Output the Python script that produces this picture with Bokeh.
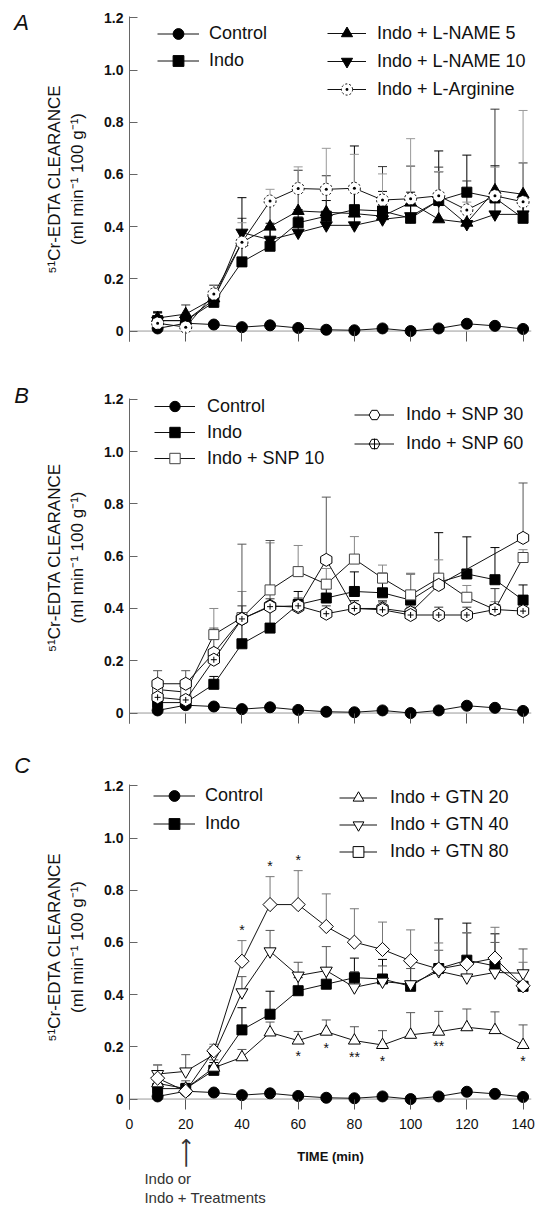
import math
from bokeh.plotting import figure
from bokeh.layouts import column
from bokeh.models import (Range1d, FixedTicker, CustomJSTickFormatter, Span, Whisker, TeeHead,
                          ColumnDataSource, Legend, LegendItem, Label)
from bokeh.core.properties import value
from bokeh.embed import file_html
from bokeh.resources import INLINE

FONT = "Liberation Sans"

# ---------------- data ----------------
TIME = [10, 20, 30, 40, 50, 60, 70, 80, 90, 100, 110, 120, 130, 140]
X_TICKS = [0, 20, 40, 60, 80, 100, 120, 140]
Y_TICKS = [0, 0.2, 0.4, 0.6, 0.8, 1.0, 1.2]

control = [0.01, 0.03, 0.025, 0.015, 0.022, 0.012, 0.005, 0.003, 0.01, 0.0, 0.01, 0.028, 0.02, 0.008]
control_sem = [0.01, 0.01, 0.008, 0.006, 0.008, 0.006, 0.005, 0.005, 0.006, 0.005, 0.006, 0.008, 0.007, 0.006]
indo = [0.04, 0.04, 0.11, 0.265, 0.325, 0.415, 0.44, 0.465, 0.46, 0.432, 0.5, 0.532, 0.51, 0.432]
indo_sem = [0.03, 0.02, 0.03, 0.085, 0.088, 0.05, 0.06, 0.075, 0.075, 0.1, 0.19, 0.142, 0.123, 0.058]

# panel A
lname5 = [0.05, 0.065, 0.125, 0.34, 0.40, 0.46, 0.455, 0.45, 0.44, 0.492, 0.428, 0.415, 0.539, 0.524]
lname5_sem = [0.025, 0.035, 0.05, 0.092, 0.11, 0.156, 0.14, 0.03, 0.19, 0.14, 0.2, 0.16, 0.311, 0.12]
lname10 = [0.04, 0.04, 0.12, 0.377, 0.35, 0.377, 0.405, 0.405, 0.428, 0.44, 0.5, 0.41, 0.447, 0.447]
lname10_sem = [0.03, 0.02, 0.03, 0.134, 0.05, 0.06, 0.05, 0.304, 0.05, 0.05, 0.11, 0.05, 0.05, 0.05]
larg = [0.03, 0.015, 0.142, 0.34, 0.498, 0.546, 0.543, 0.547, 0.502, 0.507, 0.518, 0.464, 0.518, 0.495]
larg_sem = [0.02, 0.02, 0.035, 0.075, 0.045, 0.083, 0.157, 0.13, 0.10, 0.23, 0.093, 0.03, 0.11, 0.35]

# panel B
snp10 = [0.09, 0.08, 0.30, 0.365, 0.471, 0.541, 0.493, 0.589, 0.516, 0.452, 0.516, 0.443, 0.396, 0.595]
snp10_sem = [0.03, 0.03, 0.10, 0.1, 0.18, 0.1, 0.06, 0.086, 0.05, 0.083, 0.07, 0.045, 0.03, 0.03]
snp30_time = [10, 20, 30, 40, 50, 60, 70, 80, 90, 100, 110, 140]
snp30 = [0.112, 0.112, 0.23, 0.36, 0.41, 0.405, 0.586, 0.40, 0.40, 0.385, 0.49, 0.67]
snp30_sem = [0.05, 0.05, 0.095, 0.286, 0.25, 0.03, 0.24, 0.03, 0.03, 0.03, 0.03, 0.21]
snp60 = [0.06, 0.05, 0.204, 0.36, 0.407, 0.41, 0.38, 0.40, 0.395, 0.375, 0.375, 0.375, 0.396, 0.39]
snp60_sem = [0.03, 0.03, 0.03, 0.05, 0.03, 0.03, 0.03, 0.03, 0.03, 0.03, 0.03, 0.03, 0.08, 0.03]

# panel C
gtn20 = [0.06, 0.04, 0.12, 0.16, 0.255, 0.224, 0.258, 0.224, 0.207, 0.246, 0.258, 0.275, 0.264, 0.207]
gtn20_sem = [0.03, 0.03, 0.03, 0.03, 0.04, 0.035, 0.045, 0.053, 0.055, 0.085, 0.078, 0.07, 0.07, 0.077]
gtn40 = [0.096, 0.106, 0.17, 0.409, 0.566, 0.473, 0.492, 0.428, 0.45, 0.44, 0.49, 0.466, 0.485, 0.482]
gtn40_sem = [0.035, 0.064, 0.03, 0.06, 0.08, 0.051, 0.092, 0.06, 0.06, 0.06, 0.08, 0.17, 0.115, 0.093]
gtn80 = [0.08, 0.03, 0.185, 0.528, 0.745, 0.745, 0.661, 0.601, 0.573, 0.53, 0.498, 0.518, 0.54, 0.434]
gtn80_sem = [0.05, 0.03, 0.025, 0.079, 0.107, 0.13, 0.125, 0.128, 0.105, 0.118, 0.1, 0.12, 0.118, 0.09]

star_x = [40, 50, 60, 60, 70, 80, 90, 110, 140]
star_y = [0.664, 0.907, 0.93, 0.179, 0.21, 0.176, 0.162, 0.217, 0.16]
star_text = ["*", "*", "*", "*", "*", "**", "*", "**", "*"]

TREATMENT_TIME = 20

Y_TITLE = "\u2075\u00b9Cr-EDTA CLEARANCE\n(ml min\u207b\u00b9 100 g\u207b\u00b9)"


def make_fig(height, top, bottom, letter, letter_y, show_x, y_end=1.205):
    p = figure(width=540, height=height, output_backend="svg", toolbar_location=None,
               x_range=Range1d(0, 143), y_range=Range1d(-0.04, y_end),
               min_border_left=129, min_border_right=9,
               min_border_top=top, min_border_bottom=bottom)
    p.outline_line_color = None
    p.xgrid.visible = False
    p.ygrid.visible = False
    p.background_fill_color = "white"
    p.border_fill_color = "white"

    ya = p.yaxis[0]
    ya.bounds = (-0.04, 1.205)
    ya.ticker = FixedTicker(ticks=Y_TICKS)
    ya.formatter = CustomJSTickFormatter(code="return tick == 0 ? '0' : tick.toFixed(1);")
    ya.major_tick_in = 8
    ya.major_tick_out = 0
    ya.minor_tick_line_color = None
    ya.axis_line_color = "#666666"
    ya.major_tick_line_color = "#666666"
    ya.major_label_text_font = FONT
    ya.major_label_text_font_style = "bold"
    ya.major_label_text_font_size = "14px"
    ya.major_label_text_color = "#111111"
    ya.major_label_standoff = 6
    ya.axis_label = Y_TITLE
    ya.axis_label_text_font = FONT
    ya.axis_label_text_font_style = "normal"
    ya.axis_label_text_font_size = "17px"
    ya.axis_label_text_color = "#111111"
    ya.axis_label_standoff = 14

    xa = p.xaxis[0]
    xa.ticker = FixedTicker(ticks=X_TICKS)
    xa.major_tick_in = 10
    xa.major_tick_out = 0
    xa.minor_tick_line_color = None
    xa.axis_line_color = None
    xa.major_tick_line_color = "#555555"
    if show_x:
        xa.major_label_text_font = FONT
        xa.major_label_text_font_size = "14px"
        xa.major_label_text_color = "#111111"
        xa.major_label_standoff = 9
        xa.axis_label = "TIME (min)"
        xa.axis_label_text_font = FONT
        xa.axis_label_text_font_style = "bold"
        xa.axis_label_text_font_size = "13px"
        xa.axis_label_text_color = "#111111"
        xa.axis_label_standoff = 17
    else:
        xa.major_label_text_color = None
        xa.major_label_text_font_size = "1px"
        xa.major_label_standoff = 0

    p.add_layout(Span(location=0, dimension="width", line_color="#999999",
                      line_width=1, level="underlay"))

    # panel letter (placed in the left side panel so it is not clipped to the frame)
    p.add_layout(Label(x=-41, y=letter_y, text=letter, text_align="left",
                       text_baseline="top", text_font=FONT, text_font_style="italic",
                       text_font_size="22px", text_color="#111111"), "left")
    return p


def series(p, xs, ys, sems, marker, size, fill, err_color="black", dash="solid",
           angle=0.0, extra=None, line_color="black"):
    src = ColumnDataSource(dict(x=xs, y=ys, hi=[a + b for a, b in zip(ys, sems)]))
    p.add_layout(Whisker(source=src, base="x", lower="y", upper="hi",
                         line_color=err_color, line_width=1,
                         upper_head=TeeHead(size=9, line_color=err_color, line_width=1),
                         lower_head=None, level="underlay"))
    ln = p.line("x", "y", source=src, line_color="#111111", line_width=1)
    mk = p.scatter("x", "y", source=src, marker=marker, size=size, fill_color=fill,
                   line_color=line_color, line_width=1, line_dash=dash, angle=angle)
    rs = [ln, mk]
    if extra is not None:
        rs.append(p.scatter("x", "y", source=src, marker=extra, size=6,
                            line_color=line_color, line_width=1))
    return rs


def add_legend(p, items, vx, vy, gh, spacing, gw, standoff):
    leg = Legend(items=[LegendItem(label=t, renderers=r) for t, r in items],
                 location=(vx, vy), orientation="vertical",
                 glyph_height=gh, glyph_width=gw, label_height=gh,
                 label_standoff=standoff, spacing=spacing, padding=0, margin=0,
                 border_line_color=None, background_fill_alpha=0,
                 label_text_font=FONT, label_text_font_size="18px",
                 label_text_color="#111111")
    p.add_layout(leg)


# ---------------- panel A ----------------
pA = make_fig(380, 16, 39, "A", 1.228, False)
rA_ctrl = series(pA, TIME, control, control_sem, "circle", 11, "black")
rA_indo = series(pA, TIME, indo, indo_sem, "square", 10, "black")
rA_l5 = series(pA, TIME, lname5, lname5_sem, "triangle", 12, "black", err_color="#333333")
rA_l10 = series(pA, TIME, lname10, lname10_sem, "inverted_triangle", 12, "black")
rA_arg = series(pA, TIME, larg, larg_sem, "circle_dot", 12, "white", err_color="#999999",
                dash="2 2")
add_legend(pA, [("Control", rA_ctrl), ("Indo", rA_indo)], 28, 267, 27, 0, 42, 10)
add_legend(pA, [("Indo + L-NAME 5", rA_l5), ("Indo + L-NAME 10", rA_l10),
                ("Indo + L-Arginine", rA_arg)], 198, 238, 28, 0, 39, 11)

# ---------------- panel B ----------------
pB = make_fig(366, 11, 23, "B", 1.263, False, y_end=1.23)
rB_ctrl = series(pB, TIME, control, control_sem, "circle", 11, "black")
rB_indo = series(pB, TIME, indo, indo_sem, "square", 10, "black")
rB_s10 = series(pB, TIME, snp10, snp10_sem, "square", 10, "white", err_color="#888888",
                line_color="#444444")
rB_s30 = series(pB, snp30_time, snp30, snp30_sem, "hex", 13, "white", err_color="#555555",
                angle=math.pi / 2)
rB_s60 = series(pB, TIME, snp60, snp60_sem, "hex", 13, "white", err_color="#333333",
                angle=math.pi / 2, extra="cross")
add_legend(pB, [("Control", rB_ctrl), ("Indo", rB_indo), ("Indo + SNP 10", rB_s10)],
           25, 252, 26, -2, 41, 12)
add_legend(pB, [("Indo + SNP 30", rB_s30), ("Indo + SNP 60", rB_s60)],
           225, 266, 27, 2, 40, 12)

# ---------------- panel C ----------------
pC = make_fig(461, 38, 98, "C", 1.324, True)
rC_ctrl = series(pC, TIME, control, control_sem, "circle", 11, "black")
rC_indo = series(pC, TIME, indo, indo_sem, "square", 10, "black")
rC_g20 = series(pC, TIME, gtn20, gtn20_sem, "triangle", 12, "white", err_color="#555555")
rC_g40 = series(pC, TIME, gtn40, gtn40_sem, "inverted_triangle", 12, "white",
                err_color="#555555")
rC_g80 = series(pC, TIME, gtn80, gtn80_sem, "square", 10, "white", err_color="#777777",
                angle=math.pi / 4)
pC.text(x=star_x, y=star_y, text=star_text, text_align="center", text_baseline="middle",
        text_font=value(FONT), text_font_size="14px", text_color="#111111", y_offset=4)
add_legend(pC, [("Control", rC_ctrl), ("Indo", rC_indo)], 24, 272, 27, 1, 42, 10)
add_legend(pC, [("Indo + GTN 20", rC_g20), ("Indo + GTN 40", rC_g40),
                ("Indo + GTN 80", rC_g80)], 210, 244, 27, 0, 38, 13)

# long upward arrow marking the start of the treatment (side panel -> not clipped)
pC.add_layout(Label(x=TREATMENT_TIME, y=-0.2065, text="\u27f6", angle=math.pi / 2,
                    text_align="center", text_baseline="middle", text_font="DejaVu Sans",
                    text_font_size="21px", text_color="#333333"), "left")
pC.add_layout(Label(x=5.3, y=-0.305, text="Indo  or", text_align="left",
                    text_baseline="middle", text_font=FONT, text_font_size="15px",
                    text_color="#333333"), "above")
pC.add_layout(Label(x=5.3, y=-0.378, text="Indo + Treatments", text_align="left",
                    text_baseline="middle", text_font=FONT, text_font_size="15px",
                    text_color="#333333"), "above")

layout = column(pA, pB, pC, spacing=0)
open("out.html", "w").write(file_html(layout, INLINE, title="51Cr-EDTA clearance"))
